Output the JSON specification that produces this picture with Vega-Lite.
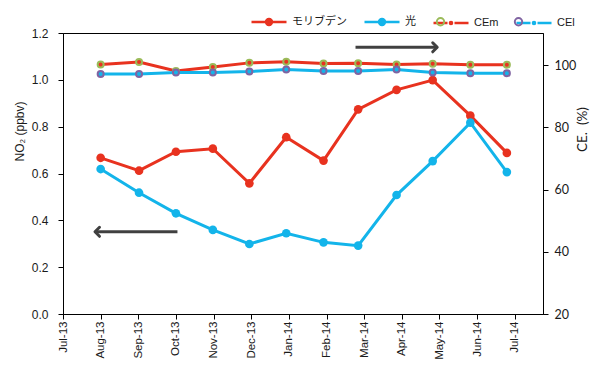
{
  "$schema": "https://vega.github.io/schema/vega-lite/v6.json",
  "width": 480,
  "height": 281,
  "autosize": "none",
  "padding": {"left": 63, "top": 33, "right": 57, "bottom": 56},
  "background": "white",
  "config": {
    "view": {"stroke": "#000000", "strokeWidth": 1},
    "font": "Liberation Sans",
    "axis": {"grid": false, "domainColor": "#000000", "tickColor": "#000000", "labelColor": "#1a1a1a", "titleColor": "#1a1a1a", "titleFontWeight": "normal", "tickSize": 5}
  },
  "datasets": {
    "series": [
      {"month": "Aug-13", "m": 1.0, "series": "モリブデン", "value": 0.667},
      {"month": "Sep-13", "m": 2.02, "series": "モリブデン", "value": 0.612},
      {"month": "Oct-13", "m": 3.0, "series": "モリブデン", "value": 0.693},
      {"month": "Nov-13", "m": 3.98, "series": "モリブデン", "value": 0.706},
      {"month": "Dec-13", "m": 4.95, "series": "モリブデン", "value": 0.558},
      {"month": "Jan-14", "m": 5.93, "series": "モリブデン", "value": 0.755},
      {"month": "Feb-14", "m": 6.92, "series": "モリブデン", "value": 0.655},
      {"month": "Mar-14", "m": 7.84, "series": "モリブデン", "value": 0.874},
      {"month": "Apr-14", "m": 8.86, "series": "モリブデン", "value": 0.957},
      {"month": "May-14", "m": 9.82, "series": "モリブデン", "value": 0.999},
      {"month": "Jun-14", "m": 10.82, "series": "モリブデン", "value": 0.847},
      {"month": "Jul-14", "m": 11.79, "series": "モリブデン", "value": 0.688},
      {"month": "Aug-13", "m": 1.0, "series": "光", "value": 0.619},
      {"month": "Sep-13", "m": 2.02, "series": "光", "value": 0.518},
      {"month": "Oct-13", "m": 3.0, "series": "光", "value": 0.43},
      {"month": "Nov-13", "m": 3.98, "series": "光", "value": 0.359},
      {"month": "Dec-13", "m": 4.95, "series": "光", "value": 0.299},
      {"month": "Jan-14", "m": 5.93, "series": "光", "value": 0.345},
      {"month": "Feb-14", "m": 6.92, "series": "光", "value": 0.306},
      {"month": "Mar-14", "m": 7.84, "series": "光", "value": 0.292},
      {"month": "Apr-14", "m": 8.86, "series": "光", "value": 0.508},
      {"month": "May-14", "m": 9.82, "series": "光", "value": 0.653},
      {"month": "Jun-14", "m": 10.82, "series": "光", "value": 0.817},
      {"month": "Jul-14", "m": 11.79, "series": "光", "value": 0.606},
      {"month": "Aug-13", "m": 1.0, "series": "CEm", "value": 100.2},
      {"month": "Sep-13", "m": 2.02, "series": "CEm", "value": 101.0},
      {"month": "Oct-13", "m": 3.0, "series": "CEm", "value": 98.1},
      {"month": "Nov-13", "m": 3.98, "series": "CEm", "value": 99.4},
      {"month": "Dec-13", "m": 4.95, "series": "CEm", "value": 100.7},
      {"month": "Jan-14", "m": 5.93, "series": "CEm", "value": 101.1},
      {"month": "Feb-14", "m": 6.92, "series": "CEm", "value": 100.5},
      {"month": "Mar-14", "m": 7.84, "series": "CEm", "value": 100.6},
      {"month": "Apr-14", "m": 8.86, "series": "CEm", "value": 100.2},
      {"month": "May-14", "m": 9.82, "series": "CEm", "value": 100.4},
      {"month": "Jun-14", "m": 10.82, "series": "CEm", "value": 100.1},
      {"month": "Jul-14", "m": 11.79, "series": "CEm", "value": 100.1},
      {"month": "Aug-13", "m": 1.0, "series": "CEl", "value": 97.1},
      {"month": "Sep-13", "m": 2.02, "series": "CEl", "value": 97.1},
      {"month": "Oct-13", "m": 3.0, "series": "CEl", "value": 97.6},
      {"month": "Nov-13", "m": 3.98, "series": "CEl", "value": 97.6},
      {"month": "Dec-13", "m": 4.95, "series": "CEl", "value": 97.9},
      {"month": "Jan-14", "m": 5.93, "series": "CEl", "value": 98.6},
      {"month": "Feb-14", "m": 6.92, "series": "CEl", "value": 98.1},
      {"month": "Mar-14", "m": 7.84, "series": "CEl", "value": 98.1},
      {"month": "Apr-14", "m": 8.86, "series": "CEl", "value": 98.6},
      {"month": "May-14", "m": 9.82, "series": "CEl", "value": 97.6},
      {"month": "Jun-14", "m": 10.82, "series": "CEl", "value": 97.4},
      {"month": "Jul-14", "m": 11.79, "series": "CEl", "value": 97.4}
    ],
    "arrows": [
      {"dir": "left", "m": 0.85, "m2": 3.04, "value": 0.351},
      {"dir": "right", "m": 9.94, "m2": 7.77, "value": 1.139}
    ]
  },
  "encoding": {
    "x": {
      "field": "m", "type": "quantitative",
      "scale": {"domain": [0, 12.75], "nice": false, "zero": false},
      "axis": {
        "title": null, "orient": "bottom",
        "values": [0, 1, 2, 3, 4, 5, 6, 7, 8, 9, 10, 11, 12],
        "labelExpr": "['Jul-13','Aug-13','Sep-13','Oct-13','Nov-13','Dec-13','Jan-14','Feb-14','Mar-14','Apr-14','May-14','Jun-14','Jul-14'][datum.value]",
        "labelAngle": 270, "labelFontSize": 11.5, "labelPadding": 2, "labelFont": "Liberation Sans",
        "labelOverlap": false, "labelBound": false, "labelFlush": false
      }
    }
  },
  "layer": [
    {
      "encoding": {
        "y": {
          "field": "value", "type": "quantitative",
          "scale": {"domain": [0, 1.2], "nice": false, "zero": false},
          "axis": {
            "orient": "left", "title": "NO₂ (ppbv)",
            "values": [0, 0.2, 0.4, 0.6, 0.8, 1.0, 1.2], "format": ".1f",
            "labelFontSize": 12, "labelPadding": 10, "labelFont": "Liberation Sans",
            "labelOverlap": false, "labelFlush": false,
            "titleFont": "Liberation Sans", "titleFontSize": 12,
            "titleAngle": 270, "titleBaseline": "bottom", "titleX": -37, "titleY": 98
          }
        }
      },
      "layer": [
        {
          "data": {"name": "series"},
          "transform": [{"filter": {"field": "series", "oneOf": ["モリブデン", "光"]}}],
          "mark": {"type": "line", "strokeWidth": 3},
          "encoding": {
            "color": {
              "field": "series", "type": "nominal",
              "scale": {"domain": ["モリブデン", "光", "CEm", "CEl"], "range": ["#e8321f", "#13b4ea", "#e8321f", "#13b4ea"]},
              "legend": {
                "title": null, "orient": "none", "legendX": 187, "legendY": -30, "direction": "horizontal",
                "padding": 0, "columnPadding": 12, "labelOffset": 4, "zindex": 0,
                "symbolType": "M-1,0L1,0M0.17,0A0.17,0.17,0,1,1,-0.17,0A0.17,0.17,0,1,1,0.17,0Z",
                "symbolSize": 1225, "symbolStrokeWidth": 2.5, "symbolOpacity": 1,
                "labelFont": "Liberation Sans, Noto Sans CJK JP", "labelFontSize": 11, "labelColor": "#1a1a1a",
                "encode": {"symbols": {"update": {
                  "fill": {"scale": "color", "field": "value"},
                  "stroke": {"scale": "color", "field": "value"},
                  "shape": {"signal": "datum.value === 'CEm' || datum.value === 'CEl' ? 'M-1,0L-0.2,0M0.2,0L1,0M0.06,0A0.06,0.06,0,1,1,-0.06,0A0.06,0.06,0,1,1,0.06,0Z' : 'M-1,0L1,0M0.17,0A0.17,0.17,0,1,1,-0.17,0A0.17,0.17,0,1,1,0.17,0Z'"}
                }}}
              }
            }
          }
        },
        {
          "data": {"name": "series"},
          "transform": [{"filter": {"field": "series", "oneOf": ["モリブデン", "光"]}}],
          "mark": {"type": "point", "filled": true, "size": 75, "opacity": 1},
          "encoding": {"color": {"field": "series", "type": "nominal"}}
        },
        {
          "data": {"name": "arrows"},
          "mark": {"type": "rule", "strokeWidth": 3, "color": "#404040"},
          "encoding": {"x2": {"field": "m2"}}
        },
        {
          "data": {"name": "arrows"},
          "transform": [{"filter": "datum.dir == 'left'"}],
          "mark": {"type": "point", "shape": "M1,-1L0,0L1,1", "filled": false, "size": 81, "strokeWidth": 3, "strokeJoin": "round", "strokeCap": "round", "color": "#404040", "opacity": 1},
          "encoding": {}
        },
        {
          "data": {"name": "arrows"},
          "transform": [{"filter": "datum.dir == 'right'"}],
          "mark": {"type": "point", "shape": "M-1,-1L0,0L-1,1", "filled": false, "size": 81, "strokeWidth": 3, "strokeJoin": "round", "strokeCap": "round", "color": "#404040", "opacity": 1},
          "encoding": {}
        }
      ]
    },
    {
      "data": {"name": "series"},
      "transform": [{"filter": {"field": "series", "oneOf": ["CEm", "CEl"]}}],
      "encoding": {
        "y": {
          "field": "value", "type": "quantitative",
          "scale": {"domain": [20, 110.3], "nice": false, "zero": false},
          "axis": {
            "orient": "right", "title": "CE.\u00a0\u00a0(%)",
            "values": [20, 40, 60, 80, 100],
            "labelFontSize": 12.5, "labelPadding": 6, "labelFont": "Lato",
            "labelOverlap": false, "labelFlush": false,
            "titleFont": "Lato", "titleFontSize": 13.5,
            "titleAngle": 270, "titleBaseline": "bottom", "titleX": 46, "titleY": 96
          }
        },
        "color": {"field": "series", "type": "nominal"}
      },
      "layer": [
        {"mark": {"type": "line", "strokeWidth": 3}},
        {
          "mark": {"type": "point", "filled": true, "size": 36, "strokeWidth": 2, "opacity": 1},
          "encoding": {
            "stroke": {
              "field": "series", "type": "nominal",
              "scale": {"domain": ["_m", "_h", "CEm", "CEl"], "range": ["transparent", "transparent", "#9bbb59", "#8064a2"]},
              "legend": {
                "title": null, "orient": "none", "legendX": 187, "legendY": -30, "direction": "horizontal",
                "padding": 0, "columnPadding": 12, "labelOffset": 4, "zindex": 1,
                "labelExpr": "datum.label == '_m' ? 'モリブデン' : datum.label == '_h' ? '光' : datum.label",
                "symbolType": "M0.21,0A0.21,0.21,0,1,1,-0.21,0A0.21,0.21,0,1,1,0.21,0Z",
                "symbolSize": 1225, "symbolStrokeWidth": 2, "symbolOpacity": 1, "symbolFillColor": "transparent",
                "labelFont": "Liberation Sans, Noto Sans CJK JP", "labelFontSize": 11, "labelColor": "transparent",
                "encode": {
                  "symbols": {"update": {"fill": {"value": "transparent"}, "stroke": {"scale": "stroke", "field": "value"}}},
                  "labels": {"update": {"dy": {"value": 2000}, "opacity": {"value": 0}}}
                }
              }
            }
          }
        }
      ]
    }
  ],
  "resolve": {"scale": {"y": "independent"}}
}
